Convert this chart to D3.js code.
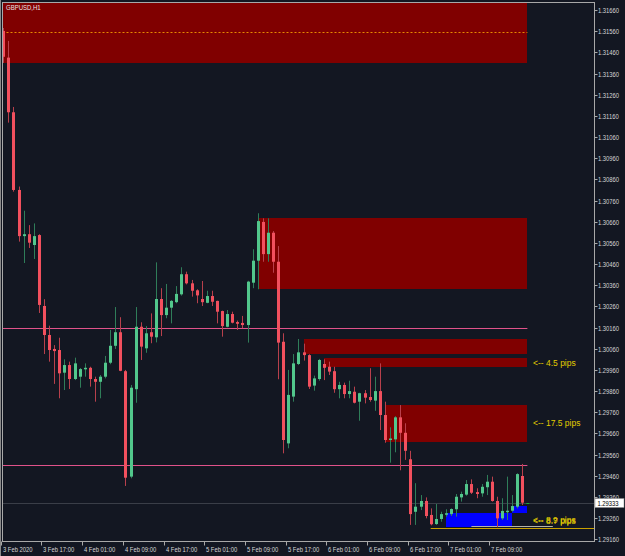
<!DOCTYPE html>
<html><head><meta charset="utf-8">
<script src="https://cdn.jsdelivr.net/npm/d3@7/dist/d3.min.js"></script>
<style>html,body{margin:0;padding:0;background:#131722;overflow:hidden}</style>
</head><body><svg id="c" width="625" height="556"></svg>
<script>
// ---------- data ----------
const symbolLabel = "GBPUSD,H1";
const opens = [1.31561,1.31435,1.31177,1.30810,1.30592,1.30601,1.30550,1.30597,1.30262,1.30125,
1.30059,1.30054,1.29947,1.29983,1.29917,1.29928,1.29963,1.29970,1.29917,1.29904,
1.29928,1.29994,1.30074,1.30138,1.29954,1.29456,1.29869,1.30164,1.30062,1.30138,
1.30114,1.30295,1.30219,1.30254,1.30280,1.30317,1.30412,1.30369,1.30336,1.30295,
1.30277,1.30309,1.30286,1.30238,1.30164,1.30224,1.30186,1.30182,1.30172,1.30372,
1.30476,1.30659,1.30507,1.30608,1.30471,1.30093,1.29613,1.29834,1.29988,1.30043,
1.30030,1.29886,1.29917,1.29988,1.29975,1.29954,1.29869,1.29889,1.29846,1.29857,
1.29810,1.29850,1.29832,1.29815,1.29860,1.29747,1.29629,1.29632,1.29736,1.29663,
1.29538,1.29290,1.29314,1.29341,1.29275,1.29232,1.29256,1.29276,1.29279,1.29302,
1.29358,1.29371,1.29421,1.29383,1.29377,1.29406,1.29432,1.29341,1.29259,1.29289,
1.29295,1.29314,1.29459];
const highs = [1.31575,1.31514,1.31202,1.30826,1.30712,1.30644,1.30652,1.30601,1.30294,1.30169,
1.30077,1.30112,1.30010,1.29999,1.30018,1.29969,1.29991,1.29975,1.29928,1.29936,
1.30026,1.30149,1.30257,1.30209,1.29960,1.29889,1.30257,1.30185,1.30167,1.30227,
1.30468,1.30346,1.30366,1.30290,1.30356,1.30445,1.30424,1.30385,1.30341,1.30380,
1.30334,1.30334,1.30287,1.30240,1.30243,1.30235,1.30193,1.30215,1.30381,1.30530,
1.30700,1.30676,1.30676,1.30616,1.30545,1.30133,1.29960,1.30035,1.30106,1.30084,
1.30034,1.29933,1.30012,1.30010,1.29999,1.29975,1.29904,1.29900,1.29909,1.29881,
1.29852,1.29865,1.29968,1.29928,1.29991,1.29810,1.29689,1.29742,1.29794,1.29708,
1.29578,1.29425,1.29369,1.29358,1.29306,1.29327,1.29290,1.29302,1.29306,1.29374,
1.29385,1.29440,1.29443,1.29401,1.29421,1.29464,1.29456,1.29361,1.29354,1.29456,
1.29369,1.29472,1.29516];
const lows = [1.31410,1.31128,1.30802,1.30566,1.30465,1.30536,1.30484,1.30229,1.30035,1.29999,
1.29894,1.29826,1.29865,1.29870,1.29912,1.29876,1.29928,1.29881,1.29810,1.29826,
1.29920,1.29987,1.30059,1.29954,1.29412,1.29448,1.29805,1.30007,1.30041,1.30086,
1.30090,1.30120,1.30204,1.30180,1.30275,1.30311,1.30364,1.30306,1.30275,1.30262,
1.30275,1.30262,1.30180,1.30117,1.30161,1.30180,1.30149,1.30157,1.30089,1.30346,
1.30341,1.30471,1.30471,1.30419,1.29916,1.29566,1.29590,1.29810,1.29983,1.30004,
1.29870,1.29862,1.29909,1.29912,1.29936,1.29852,1.29826,1.29826,1.29826,1.29802,
1.29720,1.29802,1.29810,1.29767,1.29676,1.29616,1.29522,1.29571,1.29486,1.29535,
1.29228,1.29228,1.29298,1.29259,1.29226,1.29228,1.29243,1.29267,1.29270,1.29267,
1.29338,1.29366,1.29374,1.29354,1.29361,1.29369,1.29338,1.29217,1.29251,1.29251,
1.29290,1.29306,1.29322];
const closes = [1.31439,1.31177,1.30810,1.30592,1.30601,1.30561,1.30592,1.30267,1.30125,1.30054,
1.30049,1.29944,1.29983,1.29917,1.29991,1.29964,1.29970,1.29917,1.29904,1.29928,
1.29994,1.30074,1.30138,1.29956,1.29451,1.29876,1.30164,1.30070,1.30133,1.30117,
1.30295,1.30219,1.30254,1.30286,1.30319,1.30412,1.30369,1.30334,1.30312,1.30280,
1.30309,1.30282,1.30235,1.30167,1.30224,1.30183,1.30178,1.30172,1.30377,1.30476,
1.30663,1.30507,1.30608,1.30471,1.30089,1.29629,1.29842,1.29991,1.30043,1.30030,
1.29881,1.29920,1.30007,1.29970,1.29952,1.29869,1.29889,1.29846,1.29860,1.29805,
1.29850,1.29829,1.29818,1.29860,1.29747,1.29629,1.29636,1.29736,1.29663,1.29578,
1.29279,1.29314,1.29341,1.29270,1.29231,1.29256,1.29279,1.29283,1.29303,1.29361,
1.29374,1.29421,1.29380,1.29374,1.29408,1.29432,1.29341,1.29259,1.29294,1.29295,
1.29317,1.29468,1.29333];

const priceTickLabels = ["1.31660","1.31560","1.31460","1.31360","1.31260","1.31160","1.31060","1.30960",
"1.30860","1.30760","1.30660","1.30560","1.30460","1.30360","1.30260","1.30160","1.30060","1.29960",
"1.29860","1.29760","1.29660","1.29560","1.29460","1.29360","1.29260","1.29160"];
const timeLabels = ["3 Feb 2020","3 Feb 17:00","4 Feb 01:00","4 Feb 09:00","4 Feb 17:00","5 Feb 01:00",
"5 Feb 09:00","5 Feb 17:00","6 Feb 01:00","6 Feb 09:00","6 Feb 17:00","7 Feb 01:00","7 Feb 09:00"];
const timeLabelBars = [0,8,16,24,32,40,48,56,64,72,80,88,96];

// supply zones (maroon)
const zoneStart = [-3, 50, 59, 63, 75];
const zoneEnd = [103, 103, 103, 103, 103];
const zoneTop = [1.31800, 1.30676, 1.30106, 1.30016, 1.29794];
const zoneBottom = [1.31411, 1.30342, 1.30034, 1.29975, 1.29621];
// demand zones (blue)
const blueStart = [87, 100];
const blueEnd = [100, 103];
const blueTop = [1.29283, 1.29319];
const blueBottom = [1.29217, 1.29283];
// horizontal lines
const pinkLevels = [1.30157, 1.29510];
const dottedLevel = 1.31556;
const bidPrice = 1.29333;
const goldLevel = 1.29213, goldStart = 84;
const paleLevel = 1.29217, paleStart = 92, paleEnd = 108;
// pip labels
const pipTexts = ["<-- 4.5 pips", "<-- 17.5 pips", "<-- 8.9 pips", "<-- 8.7 pips"];
const pipPrices = [1.29994, 1.29711, 1.29253, 1.29246];

// ---------- drawing ----------
const W = 625, H = 556;
const plot = {l: 2.5, r: 594.5, t: 2.5, b: 541.5};
const svg = d3.select("#c");
const x = d3.scaleLinear().domain([0, 102]).range([3.3, 522.3]);
const y = d3.scaleLinear().domain([1.29160, 1.31660]).range([539.3, 10]);
const C = {bg: "#131722", zone: "#800000", blue: "#0000ff", pink: "#e0528a",
  up: "#52c78c", dn: "#f2505e", upW: "#2f7d59", dnW: "#b8404c", axis: "#d6d6d6", yellow: "#e2cc00"};

svg.append("rect").attr("width", W).attr("height", H).attr("fill", C.bg);
svg.append("defs").append("clipPath").attr("id", "pc").append("rect")
  .attr("x", plot.l + 0.5).attr("y", plot.t + 0.5).attr("width", plot.r - plot.l - 1).attr("height", plot.b - plot.t - 1);
const g = svg.append("g").attr("clip-path", "url(#pc)");

// maroon zones
g.selectAll(".zone").data(d3.range(zoneStart.length)).join("rect")
  .attr("x", i => x(zoneStart[i])).attr("width", i => x(zoneEnd[i]) - x(zoneStart[i]))
  .attr("y", i => y(zoneTop[i])).attr("height", i => y(zoneBottom[i]) - y(zoneTop[i]))
  .attr("fill", C.zone).attr("shape-rendering", "crispEdges");
// blue zones
g.selectAll(".bz").data(d3.range(blueStart.length)).join("rect")
  .attr("x", i => x(blueStart[i])).attr("width", i => x(blueEnd[i]) - x(blueStart[i]))
  .attr("y", i => y(blueTop[i])).attr("height", i => y(blueBottom[i]) - y(blueTop[i]))
  .attr("fill", C.blue).attr("shape-rendering", "crispEdges");

// dotted line in top zone
g.append("line").attr("x1", plot.l).attr("x2", x(103))
  .attr("y1", Math.round(y(dottedLevel)) + 0.5).attr("y2", Math.round(y(dottedLevel)) + 0.5)
  .attr("stroke", "#e88a00").attr("stroke-width", 1).attr("stroke-dasharray", "2,2");

// pink levels
g.selectAll(".pl").data(pinkLevels).join("line")
  .attr("x1", plot.l).attr("x2", x(103))
  .attr("y1", d => Math.round(y(d)) + 0.5).attr("y2", d => Math.round(y(d)) + 0.5)
  .attr("stroke", C.pink).attr("stroke-width", 1);

// bid line
g.append("line").attr("x1", plot.l).attr("x2", plot.r)
  .attr("y1", Math.round(y(bidPrice)) + 0.5).attr("y2", Math.round(y(bidPrice)) + 0.5)
  .attr("stroke", "#3a3e48").attr("stroke-width", 1);

// gold + pale lines
g.append("line").attr("x1", x(goldStart)).attr("x2", plot.r)
  .attr("y1", Math.round(y(goldLevel)) + 0.5).attr("y2", Math.round(y(goldLevel)) + 0.5)
  .attr("stroke", "#c9a000").attr("stroke-width", 1);
g.append("line").attr("x1", x(paleStart)).attr("x2", x(paleEnd))
  .attr("y1", Math.round(y(paleLevel)) - 0.5).attr("y2", Math.round(y(paleLevel)) - 0.5)
  .attr("stroke", "#b8b4a4").attr("stroke-width", 1);

// candles
const idx = d3.range(opens.length);
const cx = i => Math.round(x(i));
g.selectAll(".wick").data(idx).join("line")
  .attr("x1", i => cx(i) + 0.5).attr("x2", i => cx(i) + 0.5)
  .attr("y1", i => y(highs[i])).attr("y2", i => y(lows[i]))
  .attr("stroke", i => closes[i] >= opens[i] ? C.upW : C.dnW).attr("stroke-width", 1);
g.selectAll(".body").data(idx).join("rect")
  .attr("x", i => cx(i) - 1).attr("width", 3)
  .attr("y", i => Math.min(y(opens[i]), y(closes[i])))
  .attr("height", i => Math.max(1.5, Math.abs(y(opens[i]) - y(closes[i]))))
  .attr("fill", i => closes[i] >= opens[i] ? C.up : C.dn);

// green bid marker
g.append("line").attr("x1", x(102) + 4).attr("x2", x(102) + 7)
  .attr("y1", Math.round(y(bidPrice)) + 0.5).attr("y2", Math.round(y(bidPrice)) + 0.5)
  .attr("stroke", "#1fa83a").attr("stroke-width", 1);

// pip labels
svg.selectAll(".pip").data(d3.range(pipTexts.length)).join("text")
  .attr("x", x(104) + 0.5).attr("y", i => y(pipPrices[i]))
  .attr("dy", "0.35em").attr("fill", C.yellow)
  .attr("font-family", "Liberation Sans, Arial, sans-serif").attr("font-size", 8.5)
  .text(i => pipTexts[i]);

// frame
svg.append("rect").attr("x", plot.l).attr("y", plot.t).attr("width", plot.r - plot.l).attr("height", plot.b - plot.t)
  .attr("fill", "none").attr("stroke", "#a8a8a8").attr("stroke-width", 1);
svg.append("line").attr("x1", 0.5).attr("x2", 0.5).attr("y1", 0).attr("y2", H).attr("stroke", "#8a8a8a");

// title
svg.append("text").attr("transform", "translate(6,10) scale(0.8,1)")
  .attr("fill", "#eee0e6").attr("font-family", "Liberation Sans, Arial, sans-serif").attr("font-size", 7.5)
  .text(symbolLabel);

// right axis
const ya = svg.append("g");
priceTickLabels.forEach(t => {
  const yy = Math.round(y(+t)) + 0.5;
  ya.append("line").attr("x1", plot.r).attr("x2", plot.r + 3).attr("y1", yy).attr("y2", yy).attr("stroke", "#a8a8a8");
  ya.append("text").attr("transform", `translate(598,${yy}) scale(0.78,1)`).attr("dy", "0.35em")
    .attr("fill", C.axis).attr("font-family", "Liberation Sans, Arial, sans-serif").attr("font-size", 7.5).text(t);
});
// bid price box
const by = y(bidPrice);
svg.append("rect").attr("x", 595).attr("y", Math.round(by) - 4.5).attr("width", 29).attr("height", 9)
  .attr("fill", "#ffffff").attr("stroke", "#888").attr("stroke-width", 0.5);
svg.append("text").attr("transform", `translate(597.5,${Math.round(by)}) scale(0.78,1)`).attr("dy", "0.35em")
  .attr("fill", "#000").attr("font-family", "Liberation Sans, Arial, sans-serif").attr("font-size", 7.5)
  .text(bidPrice.toFixed(5));

// bottom time axis
const xa = svg.append("g");
timeLabels.forEach((t, k) => {
  const xx = Math.round(x(timeLabelBars[k]) - 2.6) + 0.5;
  xa.append("line").attr("x1", xx).attr("x2", xx).attr("y1", plot.b).attr("y2", plot.b + 4).attr("stroke", "#a8a8a8");
  xa.append("text").attr("transform", `translate(${xx + 1.5},${549}) scale(0.78,1)`).attr("dy", "0.35em")
    .attr("fill", C.axis).attr("font-family", "Liberation Sans, Arial, sans-serif").attr("font-size", 7.5).text(t);
});
</script></body></html>
